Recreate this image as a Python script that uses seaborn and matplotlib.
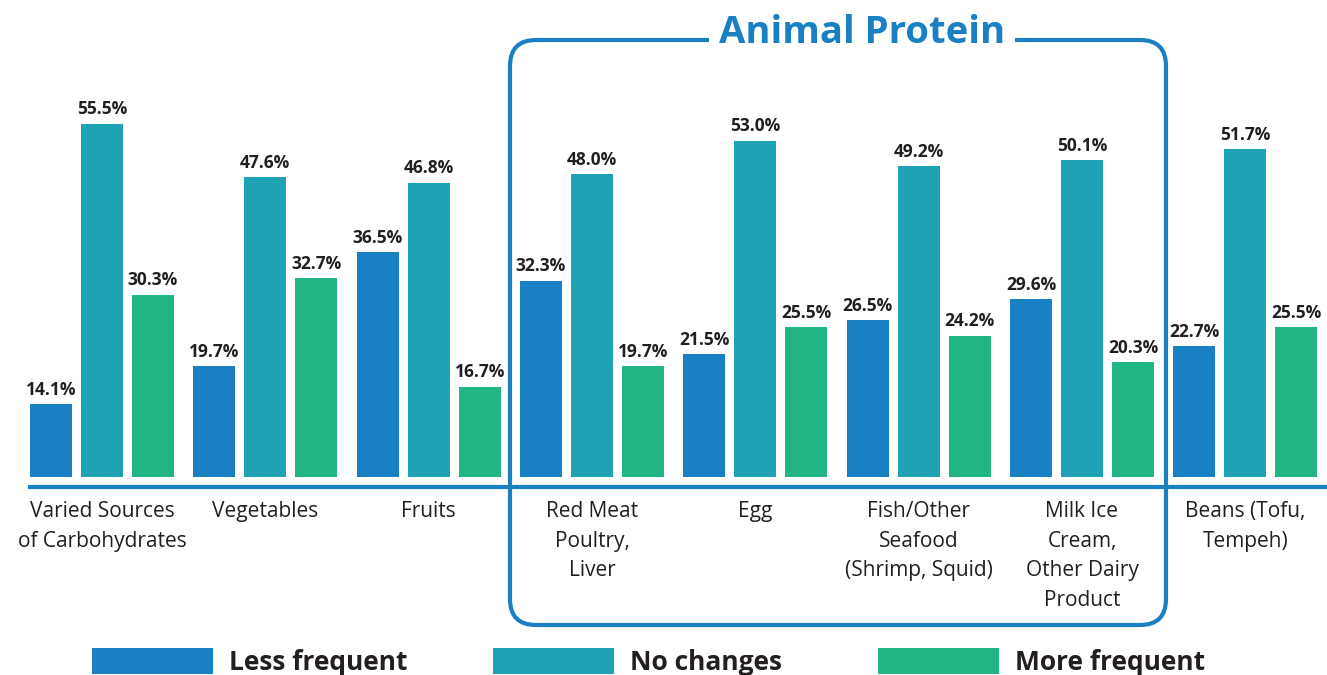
import numpy as np
import pandas as pd
import matplotlib
matplotlib.use("Agg")
import matplotlib.pyplot as plt
import matplotlib.patches as mpatches
import matplotlib.transforms as mtransforms
import seaborn as sns

# data
categories = ["Varied Sources\nof Carbohydrates", "Vegetables", "Fruits",
              "Red Meat\nPoultry,\nLiver", "Egg", "Fish/Other\nSeafood\n(Shrimp, Squid)",
              "Milk Ice\nCream,\nOther Dairy\nProduct", "Beans (Tofu,\nTempeh)"]
less_frequent = [14.1, 19.7, 36.5, 32.3, 21.5, 26.5, 29.6, 22.7]
no_changes = [55.5, 47.6, 46.8, 48.0, 53.0, 49.2, 50.1, 51.7]
more_frequent = [30.3, 32.7, 16.7, 19.7, 25.5, 24.2, 20.3, 25.5]
series = ["Less frequent", "No changes", "More frequent"]
colors = ["#1a80c4", "#20a2b5", "#21b582"]
textColor = "#231f20"

sns.set_style("white")
plt.rcParams["font.family"] = ["Open Sans", "DejaVu Sans"]

df = pd.DataFrame({
    "category": categories * 3,
    "series": [series[0]] * 8 + [series[1]] * 8 + [series[2]] * 8,
    "value": less_frequent + no_changes + more_frequent,
})

fig = plt.figure(figsize=(13.27, 6.75), dpi=100)
ax = fig.add_axes([0, 198 / 675, 1, 388 / 675])

sns.barplot(data=df, x="category", y="value", hue="series", palette=colors,
            width=0.937, gap=0.18, ax=ax, legend=False, saturation=1, linewidth=0)

for cont in ax.containers:
    ax.bar_label(cont, fmt="%.1f%%", padding=4, fontsize=12.5, fontweight="bold",
                 color=textColor)

ax.set_ylim(3.4, 60.6)
ax.set_xlim(-0.624, 7.5)
ax.set_xlabel("")
ax.set_ylabel("")
ax.set_yticks([])
for s in ["top", "left", "right"]:
    ax.spines[s].set_visible(False)
ax.spines["bottom"].set_position(("outward", 7.2))
ax.spines["bottom"].set_color(colors[0])
ax.spines["bottom"].set_linewidth(3)
ax.spines["bottom"].set_bounds(-0.44, 7.5)
ax.tick_params(axis="x", length=0, pad=10, labelsize=15, labelcolor=textColor)
for lbl in ax.get_xticklabels():
    lbl.set_linespacing(1.55)
    lbl.set_verticalalignment("top")

# rounded box around the animal protein groups
ident = mtransforms.IdentityTransform()
H = 675
box = mpatches.FancyBboxPatch((510, H - 625), 656, 585,
                              boxstyle="round,pad=0,rounding_size=26",
                              transform=ident, fill=False, edgecolor=colors[0],
                              linewidth=3, zorder=5)
fig.add_artist(box)
fig.text(862 / 1327, 1 - 33 / 675, "Animal Protein", ha="center", va="center",
         fontsize=27.5, fontweight="bold", color=colors[0], zorder=6,
         bbox=dict(facecolor="white", edgecolor="none", pad=7))

# legend, one entry each so the positions match
legendX = [92, 493, 878]
for name, col, x in zip(series, colors, legendX):
    h = mpatches.Patch(facecolor=col, edgecolor="none")
    fs = 19
    fpx = fs * 100 / 72
    fig.legend([h], [name], loc="lower left", bbox_to_anchor=(x / 1327, -0.002),
               frameon=False, borderpad=0, borderaxespad=0,
               handlelength=121 / fpx, handleheight=30 / fpx, handletextpad=0.6,
               prop={"weight": "bold", "size": fs})
    fig.legends[-1].get_texts()[0].set_color(textColor)

fig.savefig("out.png", dpi=100)
